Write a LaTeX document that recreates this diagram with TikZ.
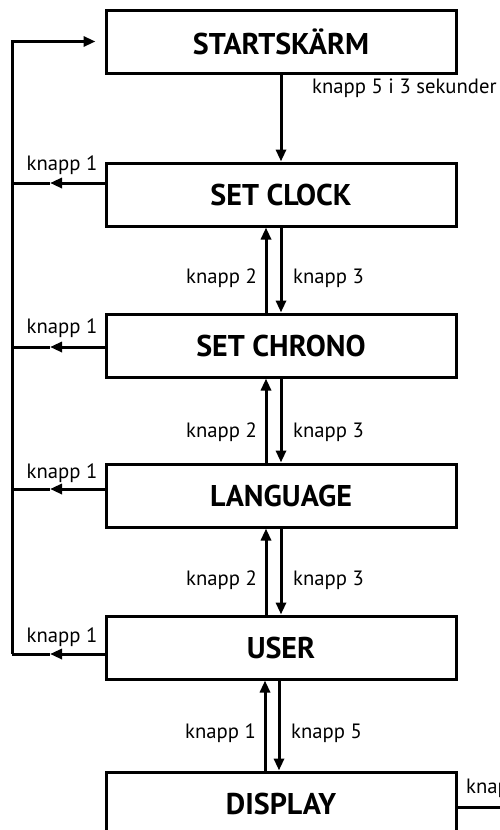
\documentclass[tikz,border=0pt]{standalone}
\usepackage{fontspec}
\setmainfont{PT Sans}
\usetikzlibrary{arrows.meta}

\begin{document}
\begin{tikzpicture}[x=1pt,y=-1pt,
    box/.style={draw, line width=3pt, minimum width=350pt, minimum height=63pt,
      font=\bfseries\fontsize{30}{30}\selectfont},
    lbl/.style={inner sep=0pt, font=\fontsize{20.7}{20.7}\selectfont},
    conn/.style={line width=3pt},
    tip/.style={-{Triangle[length=12pt,width=10pt]}}]
  \useasboundingbox (0,0) rectangle (500,830);
  \clip (0,0) rectangle (500,830);

  % the menu boxes
  \node[box] (start)    at (281,41.5)  {STARTSKÄRM};
  \node[box] (clock)    at (281,194.5) {SET CLOCK};
  \node[box] (chrono)   at (281,345.5) {SET CHRONO};
  \node[box] (language) at (281,495.5) {LANGUAGE};
  \node[box] (user)     at (281,647.5) {USER};
  \node[box] (display)  at (281,803.5) {DISPLAY};

  % way in
  \draw[conn,tip] (start.south) -- (clock.north);
  \node[lbl, anchor=west] at (312,88) {knapp 5 i 3 sekunder};

  % up and down between the boxes
  \foreach \a/\b/\y in {clock/chrono/278, chrono/language/432, language/user/580} {
    \draw[conn,tip] ([xshift=-15pt]\b.north) -- ([xshift=-15pt]\a.south);
    \draw[conn,tip] (\a.south) -- (\b.north);
    \node[lbl, anchor=east] at (257,\y) {knapp 2};
    \node[lbl, anchor=west] at (293,\y) {knapp 3};
  }
  \draw[conn,tip] ([xshift=-16pt]display.north) -- ([xshift=-16pt]user.south);
  \draw[conn,tip] ([xshift=-2pt]user.south) -- ([xshift=-2pt]display.north);
  \node[lbl, anchor=east] at (256,733) {knapp 1};
  \node[lbl, anchor=west] at (291,733) {knapp 5};

  % back to the start screen
  \coordinate (rail) at (12,654);
  \draw[conn,tip,shorten >=9pt] (rail) -- (rail |- start.west) -- (start.west);
  \foreach \b/\y/\ly in {clock/183/165, chrono/347/328, language/489/473, user/654/637} {
    \coordinate (m) at (50,\y);
    \draw[conn,tip] (\b.west |- m) -- (m);
    \draw[conn] (m) -- (rail |- m);
    \node[lbl] at (62,\ly) {knapp 1};
  }

  % out of the display
  \coordinate (out) at (500,807);
  \draw[conn] (display.east |- out) -- (out);
  \node[lbl, anchor=west] at (466,788) {knapp};
\end{tikzpicture}
\end{document}
